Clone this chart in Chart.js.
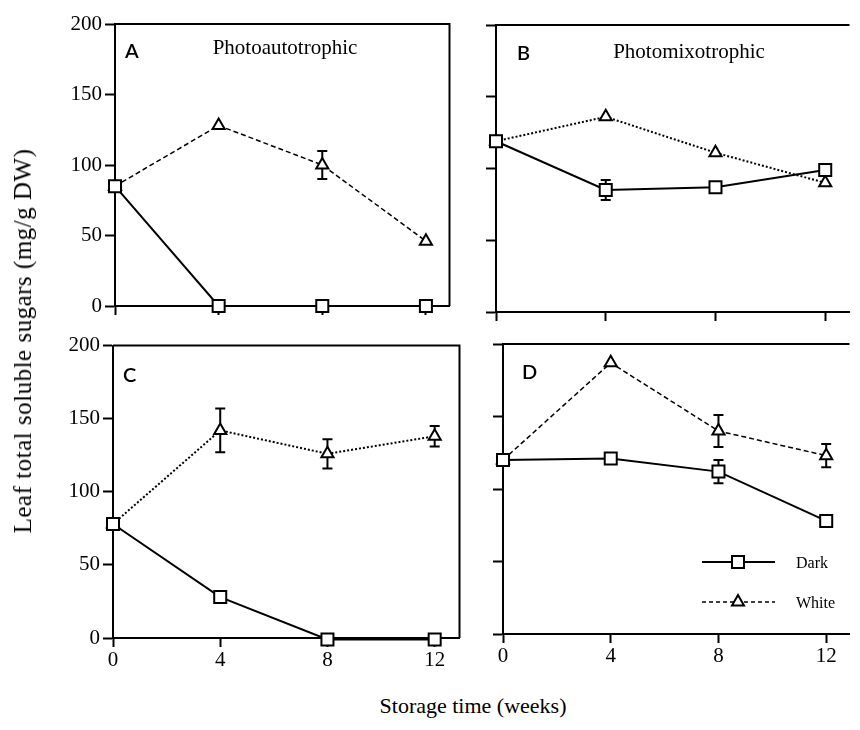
<!DOCTYPE html>
<html>
<head>
<meta charset="utf-8">
<script src="https://cdn.jsdelivr.net/npm/chart.js@4.4.1/dist/chart.umd.min.js"></script>
<style>
  html, body { margin: 0; padding: 0; background: #fff; }
  body { width: 860px; height: 730px; position: relative; overflow: hidden; font-family: "Liberation Serif", serif; color: #000; }
  canvas { position: absolute; }
  .ytitle { position: absolute; left: 23px; top: 341px; transform: translate(-50%, -50%) rotate(-90deg); white-space: nowrap; font-size: 25px; letter-spacing: 0.5px; }
  .xtitle { position: absolute; left: 473px; top: 706px; transform: translate(-50%, -50%); white-space: nowrap; font-size: 22px; }
</style>
</head>
<body>
<canvas id="panelA" style="left:0px;top:0px" width="460" height="330"></canvas>
<canvas id="panelB" style="left:430px;top:0px" width="430" height="330"></canvas>
<canvas id="panelC" style="left:0px;top:330px" width="470" height="345"></canvas>
<canvas id="panelD" style="left:470px;top:330px" width="390" height="345"></canvas>
<div class="ytitle">Leaf total soluble sugars (mg/g DW)</div>
<div class="xtitle">Storage time (weeks)</div>
<script>
// storage time in weeks
const weeks = [0, 4, 8, 12]
const xTickValues = [0, 4, 8, 12]
const yTickValues = [0, 50, 100, 150, 200]

// A - photoautotrophic
const darkA = [85, 0, 0, 0]
const darkAErr = [0, 0, 0, 0]
const whiteA = [85, 128, 100, 46]
const whiteAErr = [0, 0, 10, 0]

// B - photomixotrophic
const darkB = [119, 85, 87, 99]
const darkBErr = [0, 7, 0, 0]
const whiteB = [119, 136, 111, 90]
const whiteBErr = [0, 0, 0, 0]

// C
const darkC = [78, 28, -1, -1]
const darkCErr = [0, 0, 0, 0]
const whiteC = [78, 142, 126, 138]
const whiteCErr = [0, 15, 10, 7]

// D
const darkD = [120, 121, 112, 78]
const darkDErr = [0, 0, 8, 0]
const whiteD = [120, 187, 140, 123]
const whiteDErr = [0, 0, 11, 8]

const seriesNames = ['Dark', 'White']

const SERIF = '"Liberation Serif", "Times New Roman", serif'
const SANS = 'Lato, "Liberation Sans", sans-serif'

const errorBarPlugin = {
  id: 'errorBars',
  beforeDatasetsDraw(chart) {
    const { ctx } = chart
    const yScale = chart.scales.y
    const xScale = chart.scales.x
    chart.data.datasets.forEach(ds => {
      if (!ds.errorBars) return
      ds.data.forEach((pt, i) => {
        const err = ds.errorBars[i]
        if (!err) return
        const x = xScale.getPixelForValue(pt.x)
        const top = yScale.getPixelForValue(pt.y + err)
        const bottom = yScale.getPixelForValue(pt.y - err)
        ctx.save()
        ctx.strokeStyle = '#000'
        ctx.lineWidth = 2
        ctx.beginPath()
        ctx.moveTo(x, top)
        ctx.lineTo(x, bottom)
        ctx.moveTo(x - 5, top)
        ctx.lineTo(x + 5, top)
        ctx.moveTo(x - 5, bottom)
        ctx.lineTo(x + 5, bottom)
        ctx.stroke()
        ctx.restore()
      })
    })
  }
}

function drawMarker(ctx, style, x, y) {
  ctx.save()
  ctx.fillStyle = '#fff'
  ctx.strokeStyle = '#000'
  ctx.lineWidth = 2
  ctx.setLineDash([])
  ctx.beginPath()
  if (style === 'rect') {
    ctx.rect(x - 6, y - 6, 12, 12)
  } else {
    ctx.moveTo(x, y - 7)
    ctx.lineTo(x + 6, y + 3.5)
    ctx.lineTo(x - 6, y + 3.5)
    ctx.closePath()
  }
  ctx.fill()
  ctx.stroke()
  ctx.restore()
}

const panelTextPlugin = {
  id: 'panelText',
  afterDraw(chart, args, opts) {
    const { ctx, chartArea } = chart
    ctx.save()
    // frame: top line, and right line where the panel closes
    ctx.strokeStyle = '#000'
    ctx.lineWidth = 2
    ctx.beginPath()
    ctx.moveTo(chartArea.left, chartArea.top)
    ctx.lineTo(chartArea.right, chartArea.top)
    if (opts.frameRight) {
      ctx.lineTo(chartArea.right, chartArea.bottom)
    }
    ctx.stroke()

    ctx.fillStyle = '#000'
    ctx.textBaseline = 'alphabetic'
    ctx.textAlign = 'left'
    ctx.font = '600 20px ' + SANS
    ctx.fillText(opts.letter, chartArea.left + opts.letterOffset[0], chartArea.top + opts.letterOffset[1])
    if (opts.heading) {
      ctx.textAlign = 'center'
      ctx.font = '21px ' + SERIF
      ctx.fillText(opts.heading, chartArea.left + opts.headingOffset[0], chartArea.top + opts.headingOffset[1])
    }

    if (opts.legend) {
      const rows = [
        { name: seriesNames[0], dash: [], style: 'rect', width: 2 },
        { name: seriesNames[1], dash: [4, 3], style: 'triangle', width: 1.5 }
      ]
      rows.forEach((row, i) => {
        const y = opts.legend.y + i * 40
        ctx.strokeStyle = '#000'
        ctx.lineWidth = row.width
        ctx.setLineDash(row.dash)
        ctx.beginPath()
        ctx.moveTo(opts.legend.x, y)
        ctx.lineTo(opts.legend.x + 73, y)
        ctx.stroke()
        drawMarker(ctx, row.style, opts.legend.x + 36, y)
        ctx.setLineDash([])
        ctx.fillStyle = '#000'
        ctx.textAlign = 'left'
        ctx.font = '16px ' + SERIF
        ctx.fillText(row.name, opts.legend.x + 94, y + 6)
      })
    }
    ctx.restore()
  }
}

function toPoints(values) {
  return values.map((v, i) => ({ x: weeks[i], y: v }))
}

function makePanel(p) {
  const canvas = document.getElementById(p.id)
  const datasets = [
    {
      label: seriesNames[0],
      data: toPoints(p.dark),
      errorBars: p.darkErr,
      borderColor: '#000',
      borderWidth: 2,
      pointStyle: 'rect',
      pointRadius: 8.5,
      pointBorderWidth: 2,
      pointBackgroundColor: '#fff',
      pointBorderColor: '#000',
      clip: false
    },
    {
      label: seriesNames[1],
      data: toPoints(p.white),
      errorBars: p.whiteErr,
      borderColor: '#000',
      borderWidth: p.whiteWidth,
      borderDash: p.whiteDash,
      pointStyle: 'triangle',
      pointRadius: 7,
      pointBorderWidth: 2,
      pointBackgroundColor: '#fff',
      pointBorderColor: '#000',
      clip: false
    }
  ]

  return new Chart(canvas, {
    type: 'line',
    data: { datasets },
    plugins: [errorBarPlugin, panelTextPlugin],
    options: {
      responsive: false,
      animation: false,
      events: [],
      layout: { padding: p.padding },
      elements: { line: { tension: 0 } },
      scales: {
        x: {
          type: 'linear',
          min: 0,
          max: p.xMax,
          afterBuildTicks: scale => { scale.ticks = xTickValues.map(v => ({ value: v })) },
          afterFit: scale => { scale.height = p.xHeight },
          border: { display: true, color: '#000', width: 2 },
          grid: { display: true, drawOnChartArea: false, drawTicks: true, tickLength: 9, tickWidth: 2, tickColor: '#000' },
          ticks: {
            display: p.xLabels,
            color: '#000',
            padding: 1,
            maxRotation: 0,
            font: { family: SERIF, size: 21 }
          }
        },
        y: {
          type: 'linear',
          min: 0,
          max: 200,
          afterBuildTicks: scale => { scale.ticks = yTickValues.map(v => ({ value: v })) },
          afterFit: scale => { scale.width = p.yWidth },
          border: { display: true, color: '#000', width: 2 },
          grid: { display: true, drawOnChartArea: false, drawTicks: true, tickLength: 10, tickWidth: 2, tickColor: '#000' },
          ticks: {
            display: p.yLabels,
            color: '#000',
            padding: 3,
            font: { family: SERIF, size: 21 }
          }
        }
      },
      plugins: {
        legend: { display: false },
        tooltip: { enabled: false },
        panelText: {
          letter: p.letter,
          letterOffset: p.letterOffset,
          heading: p.heading,
          headingOffset: p.headingOffset,
          frameRight: p.frameRight,
          legend: p.legend
        }
      }
    }
  })
}

const panels = [
  {
    id: 'panelA', letter: 'A', heading: 'Photoautotrophic',
    dark: darkA, darkErr: darkAErr, white: whiteA, whiteErr: whiteAErr,
    whiteDash: [5, 3], whiteWidth: 1.5,
    xLabels: false, yLabels: true, frameRight: true,
    yWidth: 115, xHeight: 24, padding: { top: 24, right: 4, left: 0, bottom: 0 },
    xMax: 12.91, letterOffset: [10, 34], headingOffset: [170, 30]
  },
  {
    id: 'panelB', letter: 'B', heading: 'Photomixotrophic',
    dark: darkB, darkErr: darkBErr, white: whiteB, whiteErr: whiteBErr,
    whiteDash: [2, 2], whiteWidth: 2,
    xLabels: false, yLabels: false, frameRight: false,
    yWidth: 66, xHeight: 18, padding: { top: 25, right: 0, left: 0, bottom: 0 },
    xMax: 12.885, letterOffset: [21, 35], headingOffset: [193, 33]
  },
  {
    id: 'panelC', letter: 'C', heading: null,
    dark: darkC, darkErr: darkCErr, white: whiteC, whiteErr: whiteCErr,
    whiteDash: [2, 2], whiteWidth: 2,
    xLabels: true, yLabels: true, frameRight: true,
    yWidth: 113, xHeight: 37, padding: { top: 13, right: 8, left: 0, bottom: 0 },
    xMax: 12.926, letterOffset: [10, 36], headingOffset: [0, 0]
  },
  {
    id: 'panelD', letter: 'D', heading: null,
    dark: darkD, darkErr: darkDErr, white: whiteD, whiteErr: whiteDErr,
    whiteDash: [5, 3], whiteWidth: 1.5,
    xLabels: true, yLabels: false, frameRight: false,
    yWidth: 33, xHeight: 41, padding: { top: 14, right: 0, left: 0, bottom: 0 },
    xMax: 12.865, letterOffset: [19, 35], headingOffset: [0, 0],
    legend: { x: 232, y: 232 }
  }
]

panels.forEach(makePanel)
</script>
</body>
</html>
